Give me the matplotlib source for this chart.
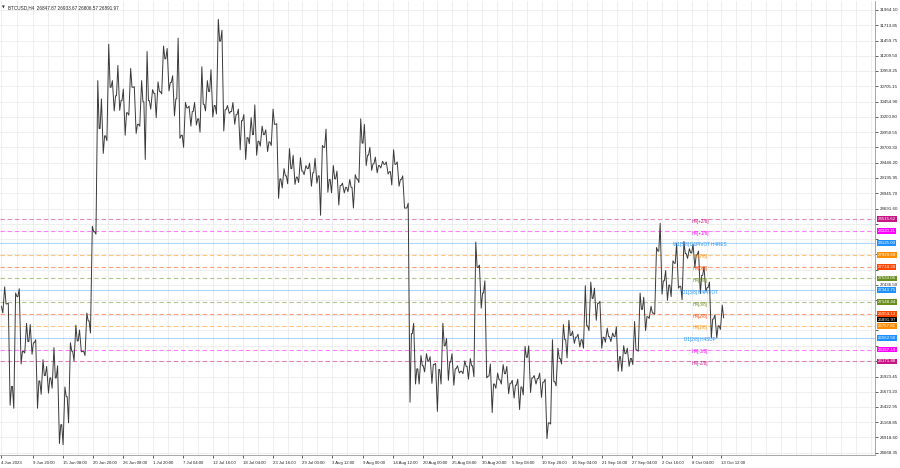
import matplotlib
matplotlib.use("Agg")
import matplotlib.pyplot as plt
import datetime


START = datetime.datetime(2023, 6, 4)
TITLE = "BTCUSD,H4  26847.87 26933.67 26806.57 26891.97"

# daily high / low / close (4 Jun .. 13 Oct 2023)
first_open = 27080
day_high = [27400, 27130, 27300, 27370, 26800, 26780, 26530, 26200, 26090, 26400,
            26100, 25750, 26480, 26770, 26690, 26970, 28400, 30800, 30500, 31400,
            30800, 31050, 30660, 31000, 30700, 30800, 31280, 30650, 30780, 31370,
            31330, 30880, 31500, 30440, 30380, 30440, 31030, 30800, 30980, 31810,
            31630, 30390, 30440, 30330, 30240, 30190, 30400, 30050, 29990, 30330,
            30090, 29350, 29680, 29570, 29530, 29400, 29440, 29520, 29730, 30000,
            29400, 29310, 29110, 29170, 29250, 30170, 30080, 29700, 29540, 29470,
            29460, 29660, 29460, 29230, 28780, 26800, 26270, 26300, 26250, 26140,
            26800, 26550, 26300, 26100, 26180, 26220, 28140, 27760, 27500, 26130,
            25980, 26120, 26090, 25860, 25880, 26420, 26430, 25940, 25980, 25880,
            26530, 26390, 26780, 26850, 26670, 26620, 27420, 27480, 27380, 27160,
            26720, 26640, 26740, 26430, 26390, 26830, 27300, 27230, 27080, 28050,
            28450, 27670, 27830, 28120, 28150, 28030, 28100, 27990, 27730, 27480,
            26940, 27100]
day_low = [26970, 25450, 25400, 26130, 26310, 26290, 25400, 25630, 25650, 25730,
           24820, 24800, 25160, 26180, 26330, 26270, 26640, 28270, 29600, 29810,
           30300, 30310, 29900, 30230, 29930, 30050, 29500, 30330, 30190, 30580,
           30630, 30220, 29850, 29700, 30050, 30070, 29950, 30300, 30200, 30250,
           29970, 30260, 30080, 29660, 29500, 29760, 29570, 29720, 29630, 29730,
           28860, 29030, 29100, 29090, 29120, 29250, 29060, 29110, 28580, 28960,
           28950, 28750, 28950, 28970, 28700, 29120, 29400, 29320, 29280, 29360,
           29260, 29080, 29060, 28700, 25500, 25800, 25800, 26000, 25810, 25350,
           25800, 25860, 25780, 25980, 25970, 25880, 25920, 27050, 25900, 25330,
           25730, 25800, 25640, 25570, 25380, 25620, 25660, 25800, 25580, 24900,
           25140, 25770, 26130, 26230, 26470, 26410, 26390, 26680, 26850, 26390,
           26490, 26500, 26010, 26010, 26090, 26120, 26340, 26680, 26880, 26950,
           27280, 27180, 27240, 27380, 27190, 27870, 27720, 27290, 27330, 26560,
           26560, 26700]
day_close = [27120, 25760, 27240, 26340, 26500, 26480, 25850, 25940, 25900, 25900,
             25130, 25590, 26340, 26510, 26340, 26840, 28310, 30010, 29890, 30690,
             30550, 30470, 30270, 30690, 30080, 30450, 30470, 30590, 30620, 31160,
             30770, 30500, 29900, 30350, 30290, 30170, 30410, 30620, 30390, 31450,
             30320, 30290, 30240, 30140, 29860, 29910, 29800, 29910, 29790, 30080,
             29180, 29230, 29350, 29210, 29310, 29350, 29280, 29230, 29700, 29170,
             29180, 29070, 29040, 29040, 29180, 29770, 29570, 29430, 29400, 29420,
             29300, 29420, 29170, 28700, 26630, 26050, 26100, 26180, 26120, 26040,
             26430, 26160, 26050, 26010, 26090, 26100, 27720, 27300, 25930, 25800,
             25870, 25970, 25810, 25780, 25750, 26240, 25900, 25890, 25830, 25160,
             25840, 26220, 26530, 26600, 26570, 26530, 26760, 27210, 27130, 26570,
             26580, 26580, 26250, 26300, 26220, 26360, 27030, 26910, 26970, 27990,
             27500, 27430, 27790, 27410, 27950, 27960, 27930, 27590, 27390, 26870,
             26760, 26891.97]

# price scale labels on the right
price_ticks = [31964.10, 31713.85, 31459.75, 31209.50, 30959.25, 30705.15, 30454.90,
               30200.80, 29950.55, 29700.30, 29446.20, 29195.95, 28945.70, 28691.60,
               28441.35, 28191.10, 27937.00, 27686.75, 27436.50, 27182.40, 26932.15,
               26681.90, 26427.80, 26177.55, 25923.45, 25673.20, 25422.95, 25168.85,
               24918.60, 24668.35]

# time scale labels
date_labels = ["4 Jun 2023", "9 Jun 20:00", "15 Jun 08:00", "20 Jun 20:00", "26 Jun 08:00",
               "1 Jul 20:00", "7 Jul 04:00", "12 Jul 16:00", "18 Jul 04:00", "23 Jul 16:00",
               "29 Jul 00:00", "3 Aug 12:00", "9 Aug 00:00", "14 Aug 12:00", "20 Aug 00:00",
               "25 Aug 08:00", "30 Aug 20:00", "5 Sep 08:00", "10 Sep 20:00", "16 Sep 04:00",
               "21 Sep 16:00", "27 Sep 04:00", "2 Oct 16:00", "8 Oct 04:00", "13 Oct 12:00"]

# murrey math levels
level_values = [28515.62, 28320.31, 28125.00, 27929.69, 27734.38, 27539.06, 27343.75,
                27148.44, 26953.12, 26757.81, 26562.50, 26367.19, 26171.88]
level_names = ["H4[+2/8]", "H4[+1/8]", "W1[5/8] D1PIVOT H4RES", "H4[7/8]", "H4[6/8]",
               "H4[5/8]", "D1[3/8] H4PIVOT", "H4[3/8]", "H4[2/8]", "H4[1/8]",
               "D1[2/8] H4SUP", "H4[-1/8]", "H4[-2/8]"]
level_colors = ["#c71585", "#ff00ff", "#1e90ff", "#ff8c00", "#ff4500", "#6b8e23",
                "#1e90ff", "#6b8e23", "#ff4500", "#ff8c00", "#1e90ff", "#ff00ff", "#c71585"]
level_solid = [False, False, True, False, False, False, True,
               False, False, False, True, False, False]
last_price = 26891.97

FONT = ["Liberation Sans", "DejaVu Sans"]
plt.rcParams["font.family"] = FONT


def to_bar(label):
    # "9 Jun 20:00" -> number of H4 bars from the start
    if label.endswith("2023"):
        dt = datetime.datetime.strptime(label, "%d %b %Y")
    else:
        dt = datetime.datetime.strptime(label + " 2023", "%d %b %H:%M %Y")
    return (dt - START).total_seconds() / 3600.0 / 4.0


def day_path():
    xs, ys = [], []
    prev = first_open
    for d, (h, l, c) in enumerate(zip(day_high, day_low, day_close)):
        b = 6 * d
        if c >= prev:
            mid = [l, h]
        else:
            mid = [h, l]
        xs += [b + 0.5, b + 2.0, b + 4.0, b + 5.5]
        ys += [prev, mid[0], mid[1], c]
        prev = c
    return xs, ys


fig = plt.figure(figsize=(9, 4.68), dpi=100)
ax = fig.add_axes([0.0, 13 / 468, 875 / 900, 454 / 468])

ax.set_xlim(-1.1, 957.3)
ax.set_ylim(24630, 32112)

# grid: vertical at the time labels and half way, horizontal at price labels
tick_bars = [to_bar(s) for s in date_labels]
minor = [(a + b) / 2 for a, b in zip(tick_bars[:-1], tick_bars[1:])]
step = (tick_bars[-1] - tick_bars[0]) / (len(tick_bars) - 1) / 2
g = tick_bars[-1] + step
while g < 957:
    minor.append(g)
    g += step
ax.set_xticks(tick_bars)
ax.set_xticks(minor, minor=True)
ax.set_xticklabels(date_labels, fontsize=3.1, ha="left")
ax.grid(which="both", axis="x", color="#ececec", linewidth=0.6)

# price labels that sit under a coloured box are not shown
boxed = level_values + [last_price]
ax.yaxis.tick_right()
ax.set_yticks(price_ticks)
ax.set_yticklabels([("" if min(abs(v - b) for b in boxed) < 80 else f"{v:.2f}")
                    for v in price_ticks], fontsize=3.2)
ax.grid(axis="y", color="#ececec", linewidth=0.6)
ax.set_axisbelow(True)

ax.tick_params(axis="x", which="major", length=2, width=0.5, pad=2.5, colors="#222222")
ax.tick_params(axis="x", which="minor", length=0)
ax.tick_params(axis="y", length=2, width=0.5, pad=1.5, colors="#222222")

for side in ["top", "left"]:
    ax.spines[side].set_visible(False)
for side in ["right", "bottom"]:
    ax.spines[side].set_color("#999999")
    ax.spines[side].set_linewidth(0.6)

# levels
label_x = (700 - 1) / 0.913
for val, name, col, solid in zip(level_values, level_names, level_colors, level_solid):
    if solid:
        ax.axhline(val, color=col, alpha=0.35, linewidth=0.8, zorder=1)
    else:
        ax.axhline(val, color=col, alpha=0.5, linewidth=0.8, linestyle=(0, (4, 2.5)), zorder=1)
    ax.annotate(name, (label_x, val), xytext=(0, -2), textcoords="offset pixels",
                ha="center", va="center", fontsize=3.3, color=col, zorder=4)
    ax.annotate(f"{val:.2f}", (1.0, val), xycoords=("axes fraction", "data"),
                xytext=(2.5, 0), textcoords="offset pixels", ha="left", va="center",
                fontsize=3.2, color="white", zorder=6, annotation_clip=False,
                bbox=dict(boxstyle="square,pad=0.2", fc=col, ec="none"))

ax.annotate(f"{last_price:.2f}", (1.0, last_price - 30), xycoords=("axes fraction", "data"),
            xytext=(2.5, 0), textcoords="offset pixels", ha="left", va="center",
            fontsize=3.2, color="white", zorder=5, annotation_clip=False,
            bbox=dict(boxstyle="square,pad=0.2", fc="black", ec="none"))

# price bars
px, py = day_path()
ax.plot(px, py, color="#3a3a3a", linewidth=0.7, zorder=3)

# title in the corner
ax.text(0.002, 0.99, "\u25bc", transform=ax.transAxes, fontsize=2.6, color="#333333",
        ha="left", va="top", family=["DejaVu Sans"])
ax.text(0.009, 0.99, TITLE, transform=ax.transAxes, fontsize=3.3, color="#222222",
        ha="left", va="top")

fig.savefig("out.png", dpi=100)
